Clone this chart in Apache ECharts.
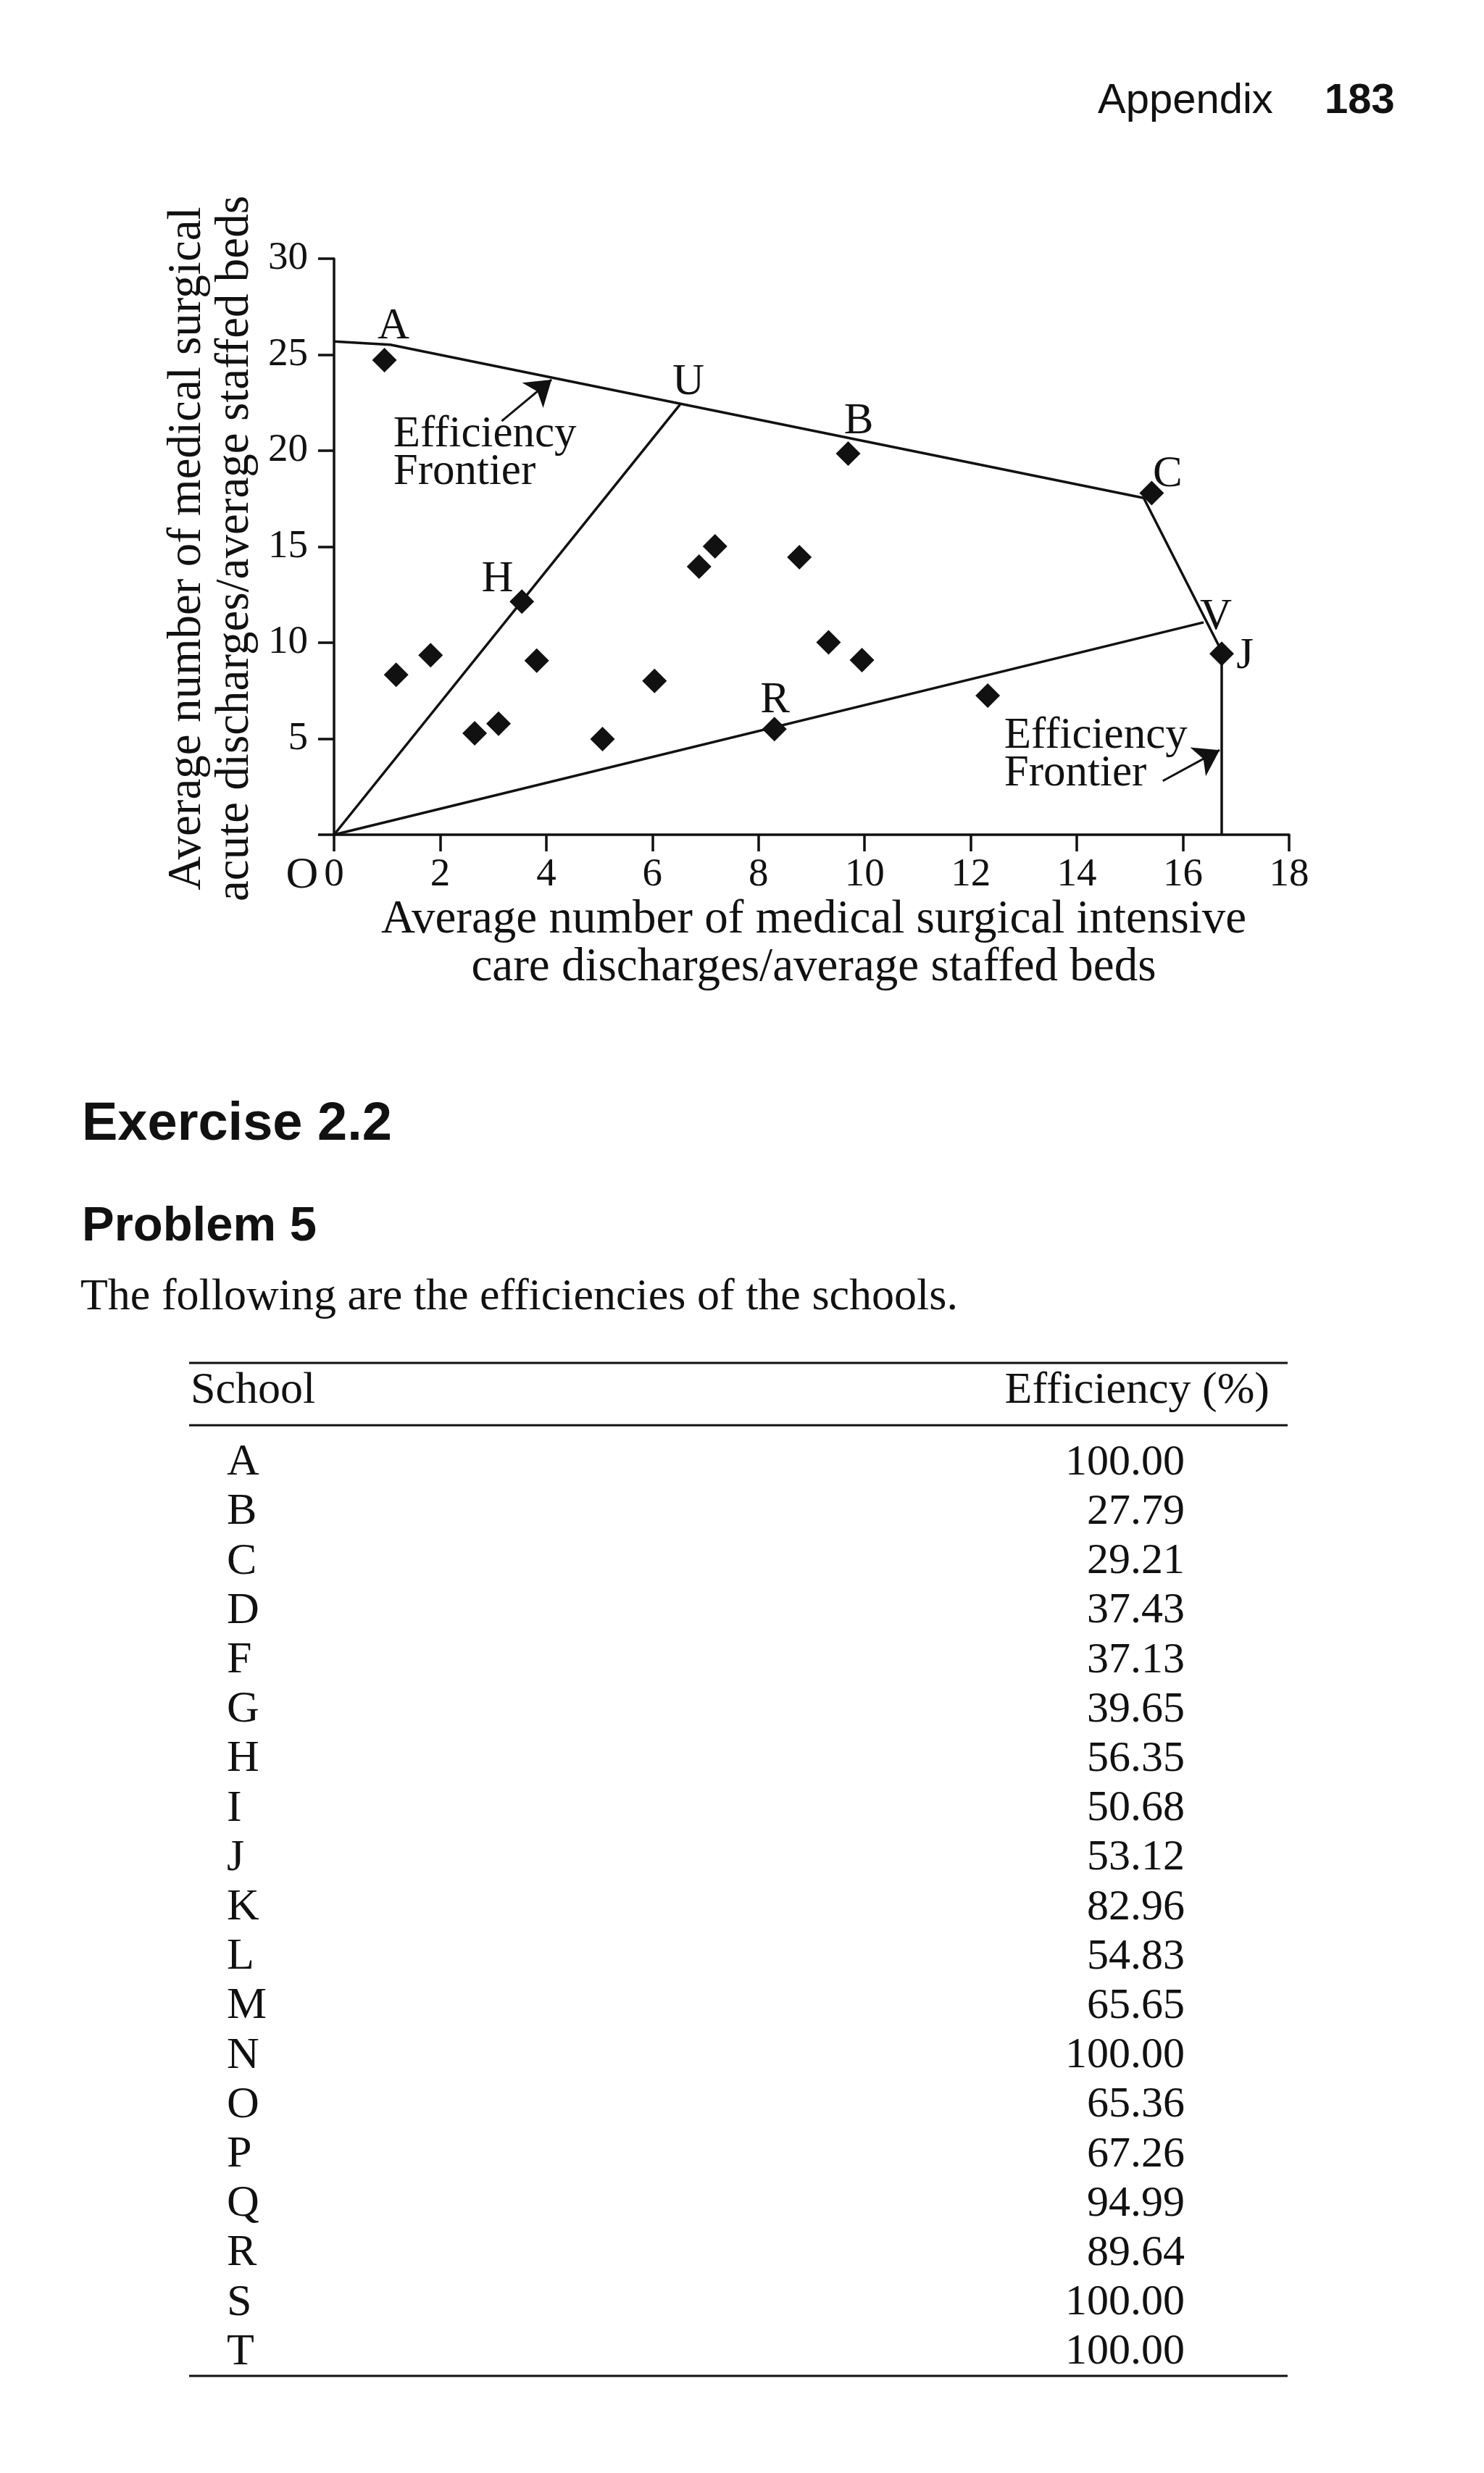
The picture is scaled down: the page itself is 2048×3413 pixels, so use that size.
<!DOCTYPE html>
<html>
<head>
<meta charset="utf-8">
<script src="https://cdn.jsdelivr.net/npm/echarts@6/dist/echarts.min.js"></script>
<style>
html,body{margin:0;padding:0;background:#fff;}
#page{width:2048px;height:3413px;}
</style>
</head>
<body>
<div id="page"></div>
<script>
// ---------- data ----------
const xTicks = [0, 18, 2];          // min, max, interval
const yTicks = [0, 30, 5];
// School positions [x, y]
const labeledPoints = [
  ['A', 0.95, 24.72], ['B', 9.69, 19.85], ['C', 15.41, 17.79],
  ['H', 3.54, 12.14], ['J', 16.73, 9.42], ['R', 8.30, 5.50]
];
const otherPoints = [
  [1.17, 8.33], [1.82, 9.35], [2.65, 5.28], [3.10, 5.78], [3.82, 9.07],
  [5.06, 4.98], [6.04, 8.01], [6.88, 13.96], [7.18, 15.02], [8.77, 14.45],
  [9.32, 10.02], [9.95, 9.09], [12.32, 7.25]
];
const frontier = [[0, 25.69], [1.06, 25.52], [15.26, 17.54], [16.73, 9.55], [16.73, 0]];
const rayU = [[0, 0], [6.52, 22.40]];
const rayV = [[0, 0], [16.39, 11.06]];
const arrows = [
  [[3.16, 21.54], [4.10, 23.70]],
  [[15.62, 2.80], [16.69, 4.41]]
];
// label text anchors [text, x, y(middle), align]
const pointLabels = [
  ['A', 1.12, 26.45, 'center'], ['U', 6.68, 23.53, 'center'], ['B', 9.89, 21.52, 'center'],
  ['C', 15.71, 18.77, 'center'], ['H', 3.08, 13.29, 'center'], ['V', 16.62, 11.33, 'center'],
  ['J', 17.17, 9.30, 'center'], ['R', 8.31, 6.98, 'center'],
  ['Efficiency', 1.116, 20.82, 'left'], ['Frontier', 1.116, 18.85, 'left'],
  ['Efficiency', 12.63, 5.14, 'left'], ['Frontier', 12.63, 3.17, 'left']
];
const xTitle = ['Average number of medical surgical intensive', 'care discharges/average staffed beds'];
const yTitle = ['Average number of medical surgical', 'acute discharges/average staffed beds'];
const schools = ['A','B','C','D','F','G','H','I','J','K','L','M','N','O','P','Q','R','S','T'];
const efficiencies = ['100.00','27.79','29.21','37.43','37.13','39.65','56.35','50.68','53.12','82.96','54.83','65.65','100.00','65.36','67.26','94.99','89.64','100.00','100.00'];

// ---------- rendering ----------
const SERIF = '"Liberation Serif","Times New Roman",serif';
const SANS = '"Liberation Sans",Arial,sans-serif';
const INK = '#111';
const chart = echarts.init(document.getElementById('page'), null, {renderer: 'canvas', width: 2048, height: 3413});

function txt(text, x, y, font, align, rot) {
  return {
    type: 'text', x: x, y: y, rotation: rot || 0, silent: true,
    style: {text: text, font: font, fill: INK, opacity: 1, textAlign: align, textVerticalAlign: 'middle', align: align, verticalAlign: 'middle'}
  };
}
function rule(y) {
  return {type: 'line', silent: true, shape: {x1: 261, y1: y, x2: 1777, y2: y}, style: {stroke: INK, lineWidth: 3}};
}

const graphics = [
  txt('Appendix', 1515, 140, '58px ' + SANS, 'left'),
  txt('183', 1828, 140, 'bold 58px ' + SANS, 'left'),
  txt(yTitle[0], 259, 757, '65px ' + SERIF, 'center', Math.PI / 2),
  txt(yTitle[1], 325, 757, '65px ' + SERIF, 'center', Math.PI / 2),
  txt(xTitle[0], 1123, 1270, '65px ' + SERIF, 'center'),
  txt(xTitle[1], 1123, 1336, '65px ' + SERIF, 'center'),
  txt('O', 417, 1209, '62px ' + SERIF, 'center'),
  txt('Exercise 2.2', 113, 1553, 'bold 74px ' + SANS, 'left'),
  txt('Problem 5', 113, 1694, 'bold 67px ' + SANS, 'left'),
  txt('The following are the efficiencies of the schools.', 111, 1791, '62px ' + SERIF, 'left'),
  rule(1881), rule(1967), rule(3279),
  txt('School', 263, 1920, '62px ' + SERIF, 'left'),
  txt('Efficiency (%)', 1752, 1920, '62px ' + SERIF, 'right')
];
schools.forEach(function (s, i) {
  const base = 2038 + i * 68.2;
  graphics.push(txt(s, 313, base - 19, '62px ' + SERIF, 'left'));
  graphics.push(txt(efficiencies[i], 1635, base - 19, '60px ' + SERIF, 'right'));
});

const lineStyle = {color: INK, width: 3.5, opacity: 1};
chart.setOption({
  animation: false,
  backgroundColor: '#fff',
  grid: {left: 461, top: 357, width: 1318, height: 795, containLabel: false},
  xAxis: {
    type: 'value', min: xTicks[0], max: xTicks[1], interval: xTicks[2],
    axisLine: {show: true, onZero: false, lineStyle: {color: INK, width: 3.5}},
    axisTick: {show: true, length: 23, lineStyle: {color: INK, width: 3.5}},
    axisLabel: {color: INK, fontFamily: SERIF, fontSize: 55, margin: 28},
    splitLine: {show: false}
  },
  yAxis: {
    type: 'value', min: yTicks[0], max: yTicks[1], interval: yTicks[2],
    axisLine: {show: true, onZero: false, lineStyle: {color: INK, width: 3.5}},
    axisTick: {show: true, length: 22, lineStyle: {color: INK, width: 3.5}},
    axisLabel: {color: INK, fontFamily: SERIF, fontSize: 55, margin: 36,
      formatter: function (v) { return v === 0 ? '' : String(v); }},
    splitLine: {show: false}
  },
  graphic: {elements: graphics},
  series: [
    {type: 'line', data: frontier, showSymbol: false, symbol: 'none', lineStyle: lineStyle, silent: true, z: 2},
    {type: 'line', data: rayU, showSymbol: false, symbol: 'none', lineStyle: lineStyle, silent: true, z: 2},
    {type: 'line', data: rayV, showSymbol: false, symbol: 'none', lineStyle: lineStyle, silent: true, z: 2},
    {type: 'lines', coordinateSystem: 'cartesian2d', silent: true, z: 3,
      symbol: ['none', 'arrow'], symbolSize: [26, 34],
      itemStyle: {color: INK, opacity: 1},
      lineStyle: {color: INK, width: 3, opacity: 1},
      data: arrows.map(function (c) { return {coords: c}; })},
    {type: 'scatter', symbol: 'diamond', symbolSize: 34, itemStyle: {color: INK, opacity: 1}, silent: true, z: 4,
      data: labeledPoints.map(function (p) { return [p[1], p[2]]; }).concat(otherPoints)},
    {type: 'scatter', symbolSize: 0, silent: true, z: 5, itemStyle: {color: INK, opacity: 1},
      data: pointLabels.map(function (l) {
        return {value: [l[1], l[2]], label: {show: true, formatter: l[0], position: 'inside', opacity: 1,
          align: l[3], verticalAlign: 'middle', color: INK, fontFamily: SERIF, fontSize: 61}};
      })}
  ]
});
</script>
</body>
</html>
